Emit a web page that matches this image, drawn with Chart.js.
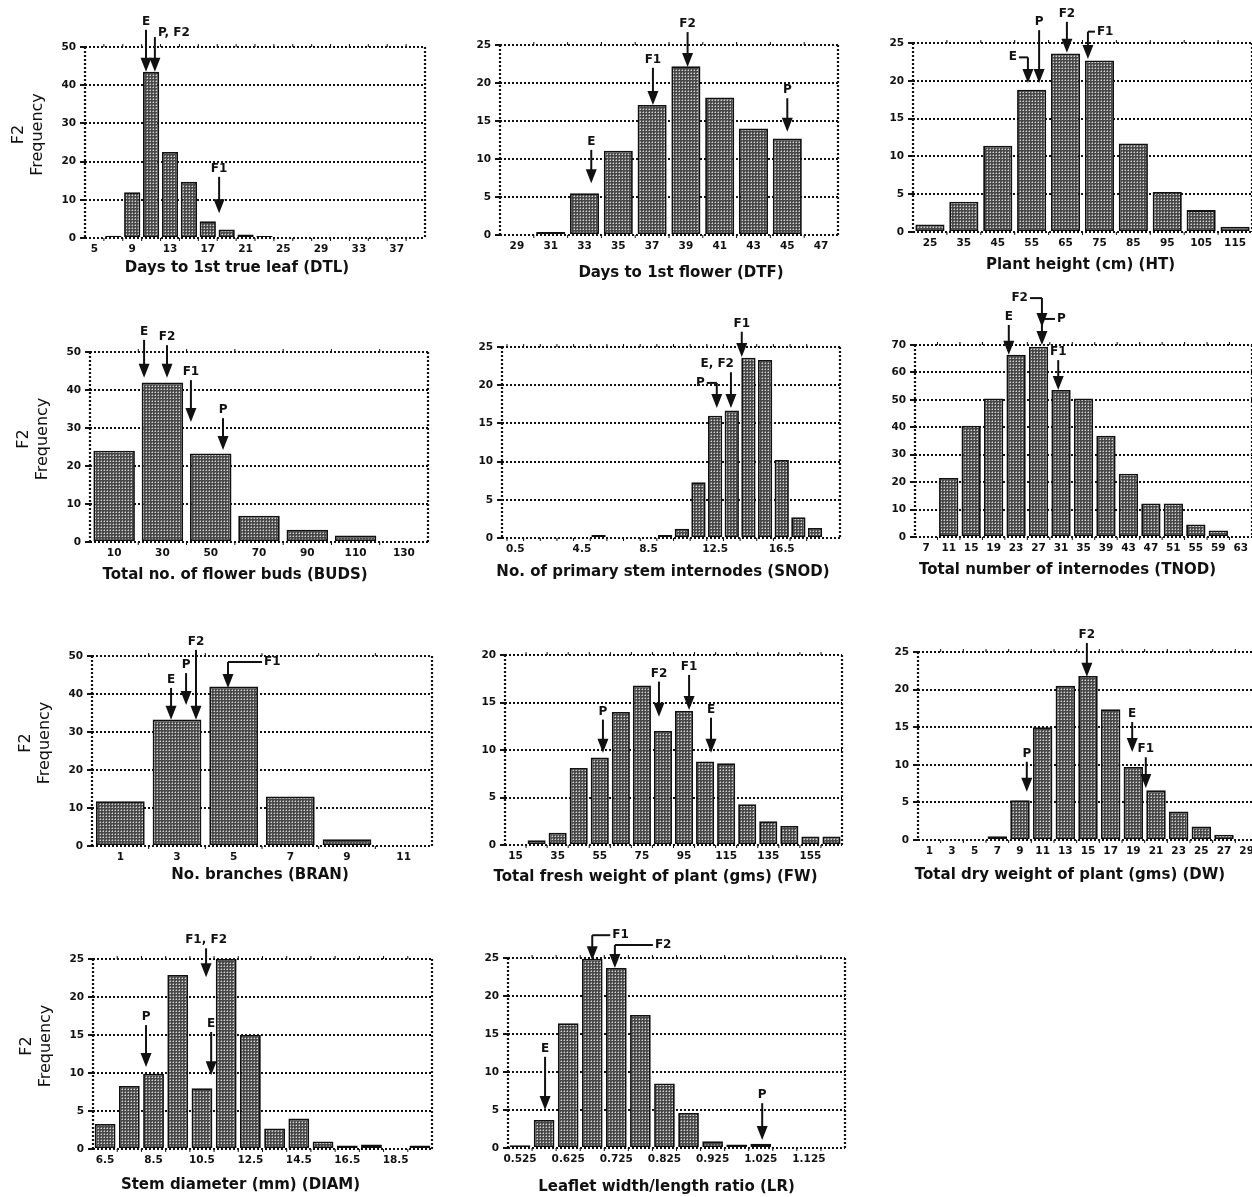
<!DOCTYPE html>
<html>
<head>
<meta charset="utf-8">
<script src="https://cdn.jsdelivr.net/npm/chart.js@4.4.1/dist/chart.umd.min.js"></script>
<style>
  html, body { margin: 0; padding: 0; background: #fff; }
  body { width: 1252px; height: 1197px; overflow: hidden; position: relative; }
  canvas { position: absolute; }
</style>
</head>
<body>
<script>
/* F2 frequency histograms, 11 traits. Arrows mark parent / F1 / F2 means. */

// ── Days to 1st true leaf ──────────────────────────────
const dtlBins   = [5, 7, 9, 11, 13, 15, 17, 19, 21, 23, 25, 27, 29, 31, 33, 35, 37, 39];
const dtlCounts = [0, 0.6, 12, 43.5, 22.5, 14.7, 4.4, 2.2, 0.9, 0.5, 0, 0, 0, 0, 0, 0, 0, 0];
const dtlTicks  = [5, 9, 13, 17, 21, 25, 29, 33, 37];
const dtlMarkNames = ['E', 'P, F2', 'F1'];
const dtlMarkX     = [10.46, 11.4, 18.2];
const dtlMarkTip   = [43.5, 43.5, 6.5];
const dtlMarkTail  = [54.5, 52.6, 16.0];

// ── Days to 1st flower ─────────────────────────────────
const dtfBins   = [29, 31, 33, 35, 37, 39, 41, 43, 45, 47];
const dtfCounts = [0, 0.4, 5.5, 11.1, 17.1, 22.2, 18.1, 14.0, 12.7, 0];
const dtfTicks  = [29, 31, 33, 35, 37, 39, 41, 43, 45, 47];
const dtfMarkNames = ['E', 'F1', 'F2', 'P'];
const dtfMarkX     = [33.4, 37.05, 39.1, 45.0];
const dtfMarkTip   = [6.8, 17.1, 22.1, 13.6];
const dtfMarkTail  = [11.2, 22.0, 26.7, 18.0];

// ── Plant height ───────────────────────────────────────
const htBins   = [25, 35, 45, 55, 65, 75, 85, 95, 105, 115];
const htCounts = [1.0, 4.0, 11.4, 18.8, 23.6, 22.7, 11.7, 5.3, 2.9, 0.7];
const htTicks  = [25, 35, 45, 55, 65, 75, 85, 95, 105, 115];
const htMarkNames = ['E', 'P', 'F2', 'F1'];
const htMarkX     = [53.9, 57.2, 65.4, 71.6];
const htMarkTip   = [19.7, 19.7, 23.7, 22.9];
const htMarkTail  = [23.1, 26.7, 27.8, 26.5];

// ── Flower buds ────────────────────────────────────────
const budsBins   = [10, 30, 50, 70, 90, 110, 130];
const budsCounts = [24.0, 42.0, 23.3, 6.9, 3.2, 1.7, 0];
const budsTicks  = [10, 30, 50, 70, 90, 110, 130];
const budsMarkNames = ['E', 'F2', 'F1', 'P'];
const budsMarkX     = [22.4, 31.9, 41.8, 55.1];
const budsMarkTip   = [43.2, 43.2, 31.6, 24.2];
const budsMarkTail  = [53.2, 51.8, 42.6, 32.6];

// ── Primary stem internodes ────────────────────────────
const snodBins   = [0.5, 1.5, 2.5, 3.5, 4.5, 5.5, 6.5, 7.5, 8.5, 9.5, 10.5, 11.5, 12.5, 13.5, 14.5, 15.5, 16.5, 17.5, 18.5];
const snodCounts = [0, 0, 0, 0, 0, 0.4, 0, 0, 0, 0.4, 1.2, 7.3, 16.0, 16.7, 23.6, 23.3, 10.2, 2.7, 1.3];
const snodTicks  = [0.5, 4.5, 8.5, 12.5, 16.5];
const snodMarkNames = ['F1', 'E, F2', 'P'];
const snodMarkX     = [14.1, 13.45, 12.6];
const snodMarkTip   = [23.7, 17.0, 17.0];
const snodMarkTail  = [27.0, 21.7, 20.3];

// ── Total internodes ───────────────────────────────────
const tnodBins   = [7, 11, 15, 19, 23, 27, 31, 35, 39, 43, 47, 51, 55, 59, 63];
const tnodCounts = [0, 21.5, 40.6, 50.5, 66.4, 69.4, 53.6, 50.5, 36.9, 23.1, 12.2, 12.2, 4.6, 2.4, 0];
const tnodTicks  = [7, 11, 15, 19, 23, 27, 31, 35, 39, 43, 47, 51, 55, 59, 63];
const tnodMarkNames = ['E', 'F2', 'P', 'F1'];
const tnodMarkX     = [21.7, 27.6, 27.6, 30.5];
const tnodMarkTip   = [66.4, 76.6, 70.0, 53.6];
const tnodMarkTail  = [77.3, 87.1, 79.5, 64.5];

// ── Branches ───────────────────────────────────────────
const branBins   = [1, 3, 5, 7, 9, 11];
const branCounts = [11.8, 33.3, 42.0, 13.0, 1.8, 0];
const branTicks  = [1, 3, 5, 7, 9, 11];
const branMarkNames = ['E', 'P', 'F2', 'F1'];
const branMarkX     = [2.79, 3.32, 3.67, 4.8];
const branMarkTip   = [33.2, 37.1, 33.2, 41.6];
const branMarkTail  = [41.6, 45.5, 51.6, 48.4];

// ── Fresh weight ───────────────────────────────────────
const fwBins   = [15, 25, 35, 45, 55, 65, 75, 85, 95, 105, 115, 125, 135, 145, 155, 165];
const fwCounts = [0, 0.5, 1.3, 8.1, 9.2, 14.0, 16.8, 12.0, 14.1, 8.8, 8.6, 4.3, 2.5, 2.0, 0.9, 0.9];
const fwTicks  = [15, 35, 55, 75, 95, 115, 135, 155];
const fwMarkNames = ['P', 'F2', 'F1', 'E'];
const fwMarkX     = [56.5, 83.1, 97.4, 107.8];
const fwMarkTip   = [9.7, 13.5, 14.2, 9.7];
const fwMarkTail  = [13.2, 17.2, 17.9, 13.4];

// ── Dry weight ─────────────────────────────────────────
const dwBins   = [1, 3, 5, 7, 9, 11, 13, 15, 17, 19, 21, 23, 25, 27, 29];
const dwCounts = [0, 0, 0, 0.5, 5.3, 15.0, 20.5, 21.8, 17.4, 9.7, 6.6, 3.8, 1.8, 0.7, 0];
const dwTicks  = [1, 3, 5, 7, 9, 11, 13, 15, 17, 19, 21, 23, 25, 27, 29];
const dwMarkNames = ['P', 'F2', 'E', 'F1'];
const dwMarkX     = [9.6, 14.9, 18.9, 20.1];
const dwMarkTip   = [6.4, 21.7, 11.7, 6.9];
const dwMarkTail  = [10.4, 26.2, 15.7, 11.0];

// ── Stem diameter ──────────────────────────────────────
const diamBins   = [6.5, 7.5, 8.5, 9.5, 10.5, 11.5, 12.5, 13.5, 14.5, 15.5, 16.5, 17.5, 18.5, 19.5];
const diamCounts = [3.3, 8.3, 9.9, 22.9, 8.0, 25.0, 15.0, 2.7, 4.0, 1.0, 0.45, 0.6, 0, 0.45];
const diamTicks  = [6.5, 8.5, 10.5, 12.5, 14.5, 16.5, 18.5];
const diamMarkNames = ['P', 'F1, F2', 'E'];
const diamMarkX     = [8.19, 10.67, 10.88];
const diamMarkTip   = [10.8, 22.6, 9.7];
const diamMarkTail  = [16.3, 26.4, 15.4];

// ── Leaflet width/length ratio ─────────────────────────
const lrBins   = [0.525, 0.575, 0.625, 0.675, 0.725, 0.775, 0.825, 0.875, 0.925, 0.975, 1.025, 1.075, 1.125, 1.175];
const lrCounts = [0.35, 3.7, 16.4, 24.9, 23.7, 17.5, 8.5, 4.6, 0.9, 0.45, 0.55, 0, 0, 0];
const lrTicks  = [0.525, 0.625, 0.725, 0.825, 0.925, 1.025, 1.125];
const lrMarkNames = ['E', 'P', 'F1', 'F2'];
const lrMarkX     = [0.577, 1.028, 0.675, 0.722];
const lrMarkTip   = [5.0, 1.05, 24.7, 23.7];
const lrMarkTail  = [12.0, 5.9, 28.0, 26.7];

// ── panel layout (page px) ─────────────────────────────
const panels = [
  { title: 'Days to 1st true leaf (DTL)', bins: dtlBins, counts: dtlCounts, ticks: dtlTicks,
    marks: [dtlMarkNames, dtlMarkX, dtlMarkTip, dtlMarkTail], styles: ['up', 'side', 'up'],
    xMin: 4, xMax: 40, yMax: 50, yStep: 10, box: [85, 47, 425, 238], titleShift: [-18, 30], yTitle: true },
  { title: 'Days to 1st flower (DTF)', bins: dtfBins, counts: dtfCounts, ticks: dtfTicks,
    marks: [dtfMarkNames, dtfMarkX, dtfMarkTip, dtfMarkTail],
    xMin: 28, xMax: 48, yMax: 25, yStep: 5, box: [500, 45, 838, 235], titleShift: [12, 38] },
  { title: 'Plant height (cm) (HT)', bins: htBins, counts: htCounts, ticks: htTicks,
    marks: [htMarkNames, htMarkX, htMarkTip, htMarkTail], styles: ['hookL 9', 'up', 'up', 'hookR 7'],
    xMin: 20, xMax: 120, yMax: 25, yStep: 5, box: [913, 43, 1252, 232], titleShift: [-2, 33] },
  { title: 'Total no. of flower buds (BUDS)', bins: budsBins, counts: budsCounts, ticks: budsTicks,
    marks: [budsMarkNames, budsMarkX, budsMarkTip, budsMarkTail],
    xMin: 0, xMax: 140, yMax: 50, yStep: 10, box: [90, 352, 428, 542], titleShift: [-24, 33], yTitle: true },
  { title: 'No. of primary stem internodes (SNOD)', bins: snodBins, counts: snodCounts, ticks: snodTicks,
    marks: [snodMarkNames, snodMarkX, snodMarkTip, snodMarkTail], styles: ['up', 'left', 'hookL 10'],
    xMin: -0.3, xMax: 20, yMax: 25, yStep: 5, box: [502, 347, 840, 538], titleShift: [-8, 34] },
  { title: 'Total number of internodes (TNOD)', bins: tnodBins, counts: tnodCounts, ticks: tnodTicks,
    marks: [tnodMarkNames, tnodMarkX, tnodMarkTip, tnodMarkTail], styles: ['up', 'hookL 12', 'hookR 13', 'up'],
    xMin: 5, xMax: 65, yMax: 70, yStep: 10, box: [915, 345, 1252, 537], titleShift: [-16, 33] },
  { title: 'No. branches (BRAN)', bins: branBins, counts: branCounts, ticks: branTicks,
    marks: [branMarkNames, branMarkX, branMarkTip, branMarkTail], styles: ['up', 'up', 'up', 'hookR 34'],
    xMin: 0, xMax: 12, yMax: 50, yStep: 10, box: [92, 656, 432, 846], titleShift: [-2, 29], yTitle: true },
  { title: 'Total fresh weight of plant (gms) (FW)', bins: fwBins, counts: fwCounts, ticks: fwTicks,
    marks: [fwMarkNames, fwMarkX, fwMarkTip, fwMarkTail],
    xMin: 10, xMax: 170, yMax: 20, yStep: 5, box: [505, 655, 842, 845], titleShift: [-18, 32] },
  { title: 'Total dry weight of plant (gms) (DW)', bins: dwBins, counts: dwCounts, ticks: dwTicks,
    marks: [dwMarkNames, dwMarkX, dwMarkTip, dwMarkTail],
    xMin: 0, xMax: 30, yMax: 25, yStep: 5, box: [918, 652, 1258, 840], titleShift: [-18, 35] },
  { title: 'Stem diameter (mm) (DIAM)', bins: diamBins, counts: diamCounts, ticks: diamTicks,
    marks: [diamMarkNames, diamMarkX, diamMarkTip, diamMarkTail],
    xMin: 6, xMax: 20, yMax: 25, yStep: 5, box: [93, 959, 432, 1149], titleShift: [-22, 36], yTitle: true },
  { title: 'Leaflet width/length ratio (LR)', bins: lrBins, counts: lrCounts, ticks: lrTicks,
    marks: [lrMarkNames, lrMarkX, lrMarkTip, lrMarkTail], styles: ['up', 'up', 'hookR 18', 'hookR 38'],
    xMin: 0.5, xMax: 1.2, yMax: 25, yStep: 5, box: [508, 958, 845, 1148], titleShift: [-10, 39] },
];

const INK  = '#111111';
const FONT = '"DejaVu Sans", Verdana, sans-serif';
const L = 95, T = 60, R = 20, B = 50;   // room round each plot area
const DOTS = [2, 2];

Chart.defaults.font.family = FONT;
Chart.defaults.color = INK;

// halftone bar fill: light dots on dark grey, 3px pitch
function stipple() {
  const tile = document.createElement('canvas');
  tile.width = tile.height = 3;
  const g = tile.getContext('2d');
  g.fillStyle = '#484848'; g.fillRect(0, 0, 3, 3);
  g.fillStyle = '#d4d4d4'; g.fillRect(1, 1, 1, 1);
  g.fillStyle = '#8a8a8a'; g.fillRect(0, 1, 1, 1); g.fillRect(1, 0, 1, 1);
  return g.createPattern(tile, 'repeat');
}

function arrow(ctx, px, tail, tip) {
  const head = Math.min(14, tip - tail);
  ctx.beginPath();
  ctx.moveTo(px, tail);
  ctx.lineTo(px, tip - head + 1);
  ctx.stroke();
  ctx.beginPath();
  ctx.moveTo(px - 5.5, tip - head);
  ctx.lineTo(px + 5.5, tip - head);
  ctx.lineTo(px, tip);
  ctx.closePath();
  ctx.fill();
}

function markLabel(ctx, text, px, tail, style) {
  const [mode, len] = style.split(' ');
  const hook = Number(len) || 0;
  if (mode === 'hookL' || mode === 'hookR') {
    const dir = mode === 'hookL' ? -1 : 1;
    ctx.beginPath();
    ctx.moveTo(px, tail);
    ctx.lineTo(px + dir * hook, tail);
    ctx.stroke();
    ctx.textAlign = dir < 0 ? 'right' : 'left';
    ctx.textBaseline = 'middle';
    ctx.fillText(text, px + dir * (hook + 2), tail);
  } else if (mode === 'side') {
    ctx.textAlign = 'left'; ctx.textBaseline = 'middle';
    ctx.fillText(text, px + 3, tail - 4);
  } else if (mode === 'left') {
    ctx.textAlign = 'right'; ctx.textBaseline = 'bottom';
    ctx.fillText(text, px + 3, tail - 2);
  } else {
    ctx.textAlign = 'center'; ctx.textBaseline = 'bottom';
    ctx.fillText(text, px, tail - 2);
  }
}

// frame, arrows and titles drawn on top of the bars
function makeDecor(p) {
  return {
    id: 'decor',
    afterDatasetsDraw(chart) {
      const { ctx, chartArea: a, scales: { x, y } } = chart;
      ctx.save();
      ctx.strokeStyle = INK;
      ctx.fillStyle = INK;

      ctx.lineWidth = 2.2;
      ctx.setLineDash(DOTS);
      ctx.beginPath();
      ctx.moveTo(a.left, a.top);  ctx.lineTo(a.left, a.bottom);
      ctx.moveTo(a.right, a.top); ctx.lineTo(a.right, a.bottom);
      ctx.stroke();
      ctx.setLineDash([]);

      // little marks on top and bottom edges at bin edges
      const w = p.bins[1] - p.bins[0];
      ctx.lineWidth = 1;
      ctx.beginPath();
      p.bins.forEach((b) => {
        const ex = x.getPixelForValue(b - w / 2);
        if (ex > a.left + 3 && ex < a.right - 3) {
          ctx.moveTo(ex, a.top);    ctx.lineTo(ex, a.top - 3);
          ctx.moveTo(ex, a.bottom); ctx.lineTo(ex, a.bottom + 3);
        }
      });
      ctx.stroke();

      // mean arrows
      ctx.lineWidth = 2;
      ctx.font = 'bold 12px ' + FONT;
      const [names, mx, tips, tails] = p.marks;
      names.forEach((name, i) => {
        const px   = x.getPixelForValue(mx[i]);
        const tip  = y.getPixelForValue(tips[i]);
        const tail = y.getPixelForValue(tails[i]);
        arrow(ctx, px, tail, tip);
        markLabel(ctx, name, px, tail, p.styles ? p.styles[i] : 'up');
      });

      // axis titles
      ctx.font = 'bold 15px ' + FONT;
      ctx.textAlign = 'center';
      ctx.textBaseline = 'middle';
      ctx.fillText(p.title, (a.left + a.right) / 2 + p.titleShift[0], a.bottom + p.titleShift[1]);

      if (p.yTitle) {
        ctx.font = '16px ' + FONT;
        const cy = (a.top + a.bottom) / 2 - 8;
        [['F2', -66], ['Frequency', -47]].forEach(([t, dx]) => {
          ctx.save();
          ctx.translate(a.left + dx, cy);
          ctx.rotate(-Math.PI / 2);
          ctx.fillText(t, 0, 0);
          ctx.restore();
        });
      }
      ctx.restore();
    },
  };
}

const fill = stipple();

panels.forEach((p) => {
  const [x0, y0, x1, y1] = p.box;
  const cv = document.createElement('canvas');
  cv.width  = x1 - x0 + L + R;
  cv.height = y1 - y0 + T + B;
  cv.style.left = (x0 - L) + 'px';
  cv.style.top  = (y0 - T) + 'px';
  document.body.appendChild(cv);

  new Chart(cv, {
    type: 'bar',
    data: {
      datasets: [{
        data: p.bins.map((b, i) => ({ x: b, y: p.counts[i] || null })),
        backgroundColor: fill,
        borderColor: INK,
        borderWidth: 1.8,
        borderSkipped: false,
        barPercentage: 0.86,
        categoryPercentage: 1,
      }],
    },
    options: {
      responsive: false,
      animation: false,
      events: [],
      layout: { autoPadding: false, padding: { top: T, right: R, left: 0, bottom: 0 } },
      plugins: { legend: { display: false }, tooltip: { enabled: false } },
      scales: {
        x: {
          type: 'linear',
          min: p.xMin,
          max: p.xMax,
          offset: false,
          grid: { display: false, drawTicks: false },
          border: { display: false },
          afterBuildTicks: (s) => { s.ticks = p.ticks.map((v) => ({ value: v })); },
          afterFit: (s) => { s.height = B; },
          ticks: {
            autoSkip: false,
            maxRotation: 0,
            padding: 5,
            font: { size: 10.5, weight: 'bold' },
            callback: (v) => String(v),
          },
        },
        y: {
          min: 0,
          max: p.yMax,
          grid: { color: INK, lineWidth: 2, tickLength: 5 },
          border: { display: false, dash: DOTS },
          afterFit: (s) => { s.width = L; },
          ticks: { stepSize: p.yStep, padding: 4, font: { size: 10.5, weight: 'bold' } },
        },
      },
    },
    plugins: [makeDecor(p)],
  });
});
</script>
</body>
</html>
